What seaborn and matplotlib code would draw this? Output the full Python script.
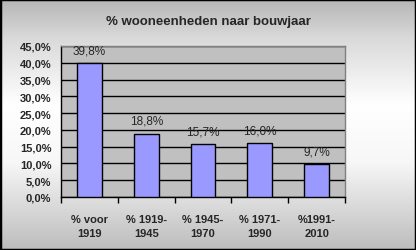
import numpy as np
import pandas as pd
import matplotlib
matplotlib.use("Agg")
import matplotlib.pyplot as plt
import seaborn as sns
from matplotlib.ticker import FixedLocator, FuncFormatter

categories = ["% voor\n1919", "% 1919-\n1945", "% 1945-\n1970", "% 1971-\n1990", "%1991-\n2010"]
values = [39.8, 18.8, 15.7, 16.0, 9.7]
value_labels = ["39,8%", "18,8%", "15,7%", "16,0%", "9,7%"]
title = "% wooneenheden naar bouwjaar"

sns.set_style("white")
plt.rcParams['font.family'] = ['Liberation Sans', 'DejaVu Sans']

fig = plt.figure(figsize=(4.16, 2.51), dpi=100)

# background gradient
bg = fig.add_axes([0, 0, 1, 1], zorder=-10)
t = np.linspace(0, 1, 256)
g = np.interp(t, [0, 0.15, 0.42, 0.65, 1.0], [0.71, 0.85, 1.0, 0.97, 0.74])
img = np.repeat(g[:, None], 2, axis=1)
bg.imshow(np.dstack([img, img, img]), aspect='auto', extent=[0, 1, 0, 1], origin='upper')
bg.set_axis_off()
bg.add_patch(plt.Rectangle((0, 0), 1, 1, transform=bg.transAxes, fill=False,
                           edgecolor='black', linewidth=2.5, clip_on=False))

ax = fig.add_axes([61/416, 1-198/251, (345-61)/416, (198-47)/251])
df = pd.DataFrame({"cat": categories, "val": values})
sns.barplot(data=df, x="cat", y="val", ax=ax, color="#9999ff", saturation=1,
            edgecolor="black", linewidth=1.0, width=0.44, zorder=3)
ax.set_facecolor("#c0c0c0")
ax.set_ylim(0, 45)
ax.set_xlim(-0.5, len(categories) - 0.5)
ax.yaxis.set_major_locator(FixedLocator(np.arange(0, 45.01, 5)))
ax.yaxis.set_major_formatter(FuncFormatter(lambda v, p: f"{v:.1f}".replace(".", ",") + "%"))
ax.grid(axis='y', color='black', linewidth=1.0, zorder=1)
ax.set_axisbelow(True)
for s in ['top', 'right']:
    ax.spines[s].set_color('#808080')
    ax.spines[s].set_linewidth(1.0)
for s in ['left', 'bottom']:
    ax.spines[s].set_color('black')
    ax.spines[s].set_linewidth(1.0)

ax.set_xticks(np.arange(len(categories)))
ax.set_xticklabels(categories, fontweight='bold', fontsize=8, linespacing=1.55)
ax.set_xticks(np.arange(-0.5, len(categories), 1), minor=True)
ax.tick_params(axis='x', which='major', length=0, pad=12)
ax.tick_params(axis='x', which='minor', length=4, width=1, color='black', direction='out')
ax.tick_params(axis='y', length=4, width=1, color='black', direction='out', pad=3)
for lab in ax.get_yticklabels():
    lab.set_fontweight('bold')
    lab.set_fontsize(8)
ax.tick_params(axis='x', bottom=True, which='both')
ax.set_xlabel("")
ax.set_ylabel("")

for i, (v, lbl) in enumerate(zip(values, value_labels)):
    ax.annotate(lbl, (i, v), xytext=(0, 5), textcoords='offset points',
                ha='center', va='bottom', fontsize=8.5, zorder=5)

fig.text(0.5, 1 - 22/251, title, ha='center', va='center', fontsize=9.5, fontweight='bold')

fig.savefig("out.png", dpi=100)
